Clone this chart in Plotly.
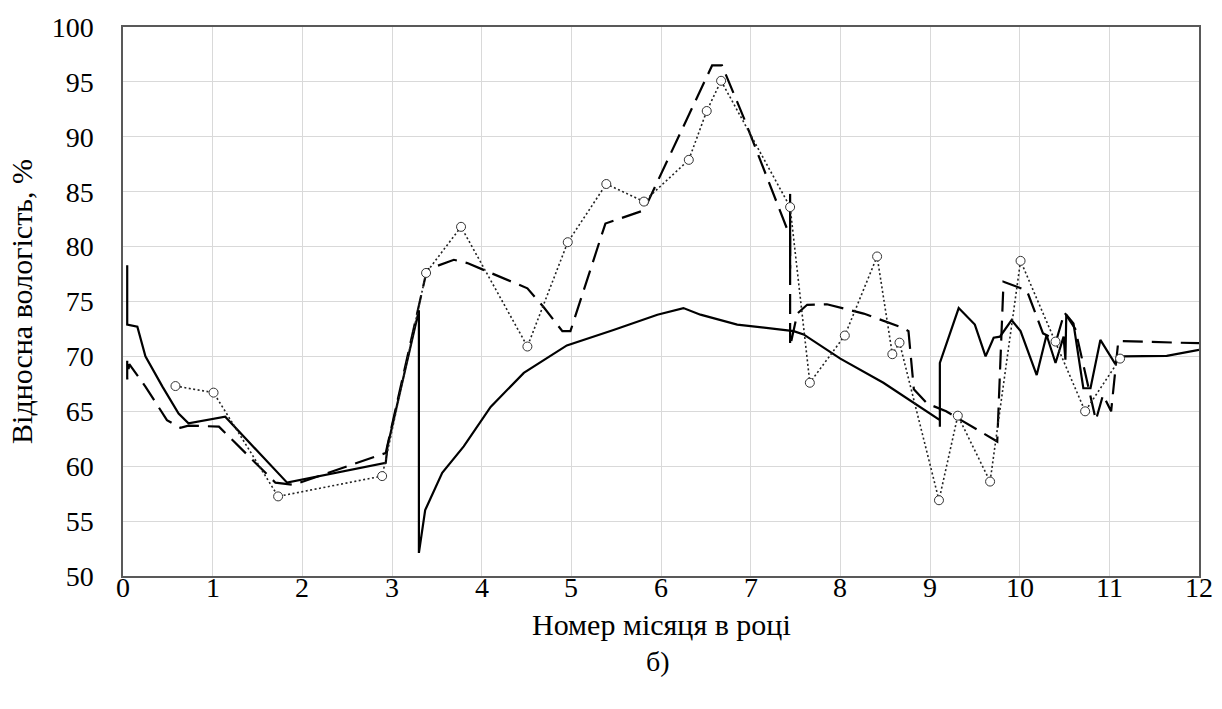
import plotly.graph_objects as go

# Solid series (None separates the short vertical stroke near month 7.44)
solid_x = [0.047, 0.047, 0.16, 0.25, 0.44, 0.62, 0.73, 0.92, 1.14, 1.83, 2.93, 2.95, 3.30, 3.30,
           3.37, 3.56, 3.80, 4.10, 4.47, 4.95, 5.47, 5.96, 6.25, 6.44, 6.85, 7.48, 7.59, 8.0,
           8.48, 9.11, 9.11, 9.11, 9.32, 9.50, 9.62, 9.71, 9.78, 9.91, 10.01, 10.19, 10.30,
           10.40, 10.49, 10.51, 10.52, 10.60, 10.71, 10.79, 10.90, 11.06, 11.14, 11.34, 11.64,
           12.0, None, 7.44, 7.44]
solid_y = [78.3, 72.9, 72.7, 70.0, 67.25, 64.8, 63.9, 64.2, 64.5, 58.5, 60.3, 61.8, 74.2, 52.1,
           56.0, 59.4, 61.8, 65.4, 68.5, 71.0, 72.4, 73.8, 74.4, 73.8, 72.9, 72.3, 72.0, 69.8,
           67.6, 64.2, 63.6, 69.4, 74.4, 72.9, 70.0, 71.7, 71.8, 73.3, 72.3, 68.3, 71.95,
           69.4, 71.8, 69.7, 73.8, 73.0, 67.1, 67.1, 71.5, 69.4, 70.0, 70.0, 70.05,
           70.6, None, 84.8, 78.0]

# Dashed series
dash_x = [0.047, 0.047, 0.07, 0.25, 0.49, 0.64, 0.73, 1.07, 1.70, 1.90, 2.93, 3.32, 3.39, 3.69,
          3.84, 4.51, 4.69, 4.90, 4.99, 5.38, 5.81, 6.57, 6.68, 6.92, 7.44, 7.44, 7.52, 7.63,
          7.85, 8.26, 8.70, 8.76, 8.82, 8.97, 9.18, 9.75, 9.82, 10.08, 10.26, 10.41, 10.50,
          10.62, 10.85, 10.93, 11.02, 11.10, 12.0]
dash_y = [69.6, 67.9, 69.3, 67.25, 64.2, 63.5, 63.7, 63.6, 58.5, 58.3, 61.2, 75.4, 77.9, 78.8,
          78.5, 76.2, 74.5, 72.3, 72.3, 82.1, 83.3, 96.5, 96.5, 91.8, 80.9, 70.9, 73.9, 74.7,
          74.75, 73.9, 72.6, 72.3, 67.0, 65.7, 65.0, 62.25, 76.8, 76.0, 72.1, 71.5, 74.0,
          72.5, 64.2, 66.5, 65.0, 71.4, 71.2]

# Dotted series with circle markers
dot_x = [0.585, 1.01, 1.73, 2.89, 3.38, 3.77, 4.51, 4.96, 5.39, 5.81, 6.31, 6.51, 6.67, 7.44,
         7.66, 8.05, 8.41, 8.58, 8.66, 9.10, 9.31, 9.67, 10.01, 10.40, 10.73, 11.12]
dot_y = [67.3, 66.7, 57.25, 59.1, 77.6, 81.8, 70.9, 80.4, 85.7, 84.1, 87.9, 92.35, 95.1, 83.6,
         67.6, 71.9, 79.1, 70.2, 71.25, 56.9, 64.6, 58.6, 78.7, 71.35, 65.0, 69.8]

x_ticks = list(range(0, 13))
x_tick_labels = [str(v) for v in x_ticks]
y_ticks = list(range(50, 101, 5))
y_tick_labels = [str(v) for v in y_ticks]

FONT = "Times New Roman, Liberation Serif, DejaVu Serif, serif"
FS = 28
FT = 30

fig = go.Figure()
fig.add_trace(go.Scatter(x=solid_x, y=solid_y, mode="lines", connectgaps=False,
                         line=dict(color="black", width=2.2), showlegend=False))
fig.add_trace(go.Scatter(x=dash_x, y=dash_y, mode="lines",
                         line=dict(color="black", width=2.2, dash="20px,9px"), showlegend=False))
fig.add_trace(go.Scatter(x=dot_x, y=dot_y, mode="lines+markers",
                         line=dict(color="#222222", width=1.6, dash="2px,2.5px"),
                         marker=dict(symbol="circle", size=9, color="white",
                                     line=dict(color="#333333", width=1)),
                         showlegend=False))

# x tick labels placed just below the axis (closer than Plotly's default offset)
annotations = [dict(text=lab, x=v, y=-0.021, xref="x", yref="paper",
                    xanchor="center", yanchor="middle", showarrow=False,
                    font=dict(family=FONT, size=FS, color="black"))
               for v, lab in zip(x_ticks, x_tick_labels)]
annotations.append(dict(text="Номер місяця в році", x=0.5, y=-0.088, xref="paper", yref="paper",
                        xanchor="center", yanchor="middle", showarrow=False,
                        font=dict(family=FONT, size=FT, color="black")))
annotations.append(dict(text="б)", x=0.497, y=-0.155, xref="paper", yref="paper",
                        xanchor="center", yanchor="middle", showarrow=False,
                        font=dict(family=FONT, size=FS, color="black")))

fig.update_layout(
    width=1222, height=709,
    margin=dict(l=122.5, r=23, t=26.5, b=132.5),
    plot_bgcolor="white", paper_bgcolor="white",
    font=dict(family=FONT, size=FS, color="black"),
    xaxis=dict(range=[0, 12], tickvals=x_ticks, showticklabels=False,
               showgrid=True, gridcolor="#d9d9d9", gridwidth=1,
               showline=True, linecolor="#595959", linewidth=1.5, mirror=True,
               zeroline=False, ticks=""),
    yaxis=dict(range=[50, 100], tickvals=y_ticks, ticktext=y_tick_labels,
               showgrid=True, gridcolor="#d9d9d9", gridwidth=1,
               showline=True, linecolor="#595959", linewidth=1.5, mirror=True,
               zeroline=False, ticks="", ticklabelstandoff=22,
               tickfont=dict(family=FONT, size=FS, color="black"),
               title=dict(text="Відносна вологість, %", standoff=10,
                          font=dict(family=FONT, size=FT, color="black"))),
    annotations=annotations,
)

fig.write_html("out.html")
